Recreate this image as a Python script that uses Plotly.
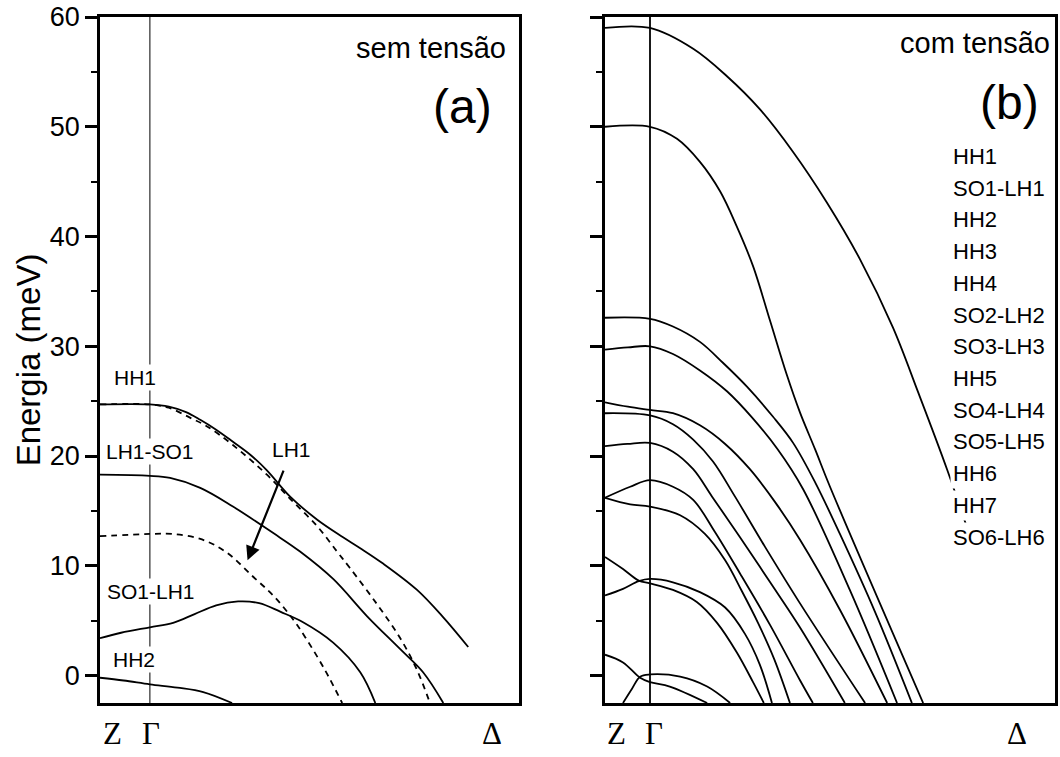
import plotly.graph_objects as go

# ---------------- panel (a): sem tensão ----------------
# k in arbitrary units along Z -> Gamma -> Delta ; energies in meV
K_GAMMA_A = 0.116
K_HH1_A = [0, 0.116, 0.16, 0.2, 0.233, 0.27, 0.309, 0.35, 0.388, 0.442, 0.505, 0.565, 0.605, 0.658, 0.737, 0.798, 0.856]
E_HH1_A = [24.7, 24.7, 24.5, 24.0, 23.3, 22.4, 21.3, 20.1, 18.7, 16.3, 14.2, 12.6, 11.6, 10.2, 7.8, 5.3, 2.6]

K_LH1_A = [0, 0.116, 0.16, 0.209, 0.249, 0.309, 0.388, 0.442, 0.505, 0.551, 0.581, 0.644, 0.698, 0.737, 0.767]
E_LH1_A = [24.7, 24.7, 24.4, 23.5, 22.7, 21.0, 18.3, 16.1, 13.6, 11.3, 9.8, 6.5, 3.4, 0.5, -2.5]

K_LHSO_A = [0, 0.116, 0.163, 0.233, 0.309, 0.402, 0.465, 0.542, 0.621, 0.698, 0.751, 0.798]
E_LHSO_A = [18.3, 18.2, 18.0, 17.1, 15.4, 13.0, 11.3, 8.8, 5.4, 2.4, 0.3, -2.5]

K_SO1_A = [0, 0.116, 0.17, 0.237, 0.295, 0.356, 0.405, 0.449, 0.477, 0.523, 0.563]
E_SO1_A = [12.7, 12.9, 12.9, 12.4, 11.2, 9.0, 7.2, 5.1, 3.5, 0.5, -2.5]

K_SOLH_A = [0, 0.049, 0.116, 0.17, 0.22, 0.27, 0.321, 0.37, 0.42, 0.47, 0.542, 0.605, 0.640]
E_SOLH_A = [3.4, 3.9, 4.4, 4.8, 5.6, 6.4, 6.75, 6.6, 5.8, 4.9, 3.0, 0.3, -2.5]

K_HH2_A = [0, 0.055, 0.116, 0.18, 0.24, 0.307]
E_HH2_A = [-0.2, -0.45, -0.8, -1.1, -1.5, -2.5]

SOLID_A = [(K_HH1_A, E_HH1_A), (K_LHSO_A, E_LHSO_A), (K_SOLH_A, E_SOLH_A), (K_HH2_A, E_HH2_A)]
DASHED_A = [(K_LH1_A, E_LH1_A), (K_SO1_A, E_SO1_A)]

LABELS_A = ["HH1", "LH1-SO1", "SO1-LH1", "HH2"]
LABEL_K_A = [0.082, 0.116, 0.119, 0.078]
LABEL_E_A = [27.2, 20.4, 7.7, 1.5]

# ---------------- panel (b): com tensão ----------------
K_GAMMA_B = 0.1
BANDS_B = [
    ([0, 0.1, 0.196, 0.271, 0.344, 0.418, 0.493, 0.567, 0.64, 0.696, 0.76, 0.81],
     [59.0, 59.0, 57.1, 54.6, 51.6, 47.7, 43.1, 37.9, 31.7, 25.8, 18.8, 12.8]),
    ([0, 0.1, 0.16, 0.211, 0.256, 0.293, 0.329, 0.367, 0.404, 0.433, 0.467, 0.5, 0.707],
     [50.0, 50.0, 48.9, 46.8, 44.1, 40.9, 37.3, 32.3, 27.4, 24.0, 20.6, 17.2, -2.5]),
    ([0, 0.1, 0.151, 0.211, 0.262, 0.316, 0.373, 0.418, 0.467, 0.522, 0.6, 0.682],
     [32.6, 32.5, 31.8, 30.4, 28.5, 26.3, 23.6, 21.2, 17.6, 12.9, 5.8, -2.5]),
    ([0, 0.051, 0.1, 0.151, 0.211, 0.271, 0.327, 0.384, 0.44, 0.544, 0.649],
     [29.7, 29.9, 30.0, 29.3, 27.8, 25.9, 23.5, 20.6, 17.0, 7.8, -2.5]),
    ([0, 0.051, 0.1, 0.151, 0.211, 0.267, 0.322, 0.378, 0.433, 0.522, 0.627],
     [24.9, 24.5, 24.2, 23.9, 22.8, 21.1, 18.8, 15.8, 12.4, 6.0, -2.5]),
    ([0, 0.1, 0.151, 0.196, 0.24, 0.289, 0.356, 0.433, 0.578],
     [23.9, 23.7, 22.9, 21.5, 19.5, 16.3, 11.7, 6.6, -2.5]),
    ([0, 0.05, 0.1, 0.151, 0.196, 0.238, 0.3, 0.367, 0.433, 0.533],
     [20.9, 21.1, 21.2, 20.4, 18.8, 16.3, 12.6, 8.5, 4.4, -2.5]),
    ([0, 0.056, 0.1, 0.151, 0.196, 0.244, 0.3, 0.367, 0.433, 0.462],
     [16.2, 17.2, 17.8, 17.2, 16.0, 13.1, 9.3, 4.6, -0.4, -2.5]),
    ([0, 0.056, 0.1, 0.167, 0.222, 0.267, 0.304, 0.34, 0.376, 0.411],
     [16.2, 15.6, 15.4, 14.6, 12.9, 10.5, 7.7, 4.8, 1.5, -2.5]),
    ([0, 0.04, 0.075, 0.1, 0.151, 0.211, 0.267, 0.311, 0.344, 0.371],
     [7.3, 7.9, 8.6, 8.8, 8.5, 7.6, 6.2, 3.8, 1.0, -2.5]),
    ([0, 0.04, 0.075, 0.1, 0.151, 0.204, 0.249, 0.293, 0.329, 0.353],
     [10.8, 9.7, 8.65, 8.4, 7.8, 6.7, 4.8, 2.1, -0.6, -2.5]),
    ([0.04, 0.06, 0.078, 0.1, 0.167, 0.227, 0.278],
     [-2.5, -1.2, -0.1, 0.1, -0.1, -1.0, -2.5]),
    ([0, 0.04, 0.078, 0.1, 0.144, 0.227],
     [1.9, 1.2, -0.2, -0.6, -1.0, -2.5]),
]

LABELS_B = ["HH1", "SO1-LH1", "HH2", "HH3", "HH4", "SO2-LH2", "SO3-LH3",
            "HH5", "SO4-LH4", "SO5-LH5", "HH6", "HH7", "SO6-LH6"]
LABEL_E_B = [47.3 - 2.89 * i for i in range(len(LABELS_B))]

E_MIN, E_MAX = -2.5, 60
K_MAX_A, K_MAX_B = 0.974, 1.0

# k-point names along the bottom (label centres, in k)
KPT_NAMES = ["Z", "Γ", "Δ"]
KPT_POS_A = [0.03, 0.118, 0.912]
KPT_POS_B = [0.026, 0.109, 0.916]

LW = 1.8
SANS = "Liberation Sans, Arial, sans-serif"
SERIF = "Liberation Serif, Times New Roman, serif"

fig = go.Figure()


def band(k, e, xa, ya, dash="solid"):
    fig.add_trace(go.Scatter(
        x=k, y=e, xaxis=xa, yaxis=ya, mode="lines",
        line=dict(color="black", width=LW, dash=dash, shape="spline", smoothing=1.0),
        hoverinfo="skip", showlegend=False))


# Gamma lines
fig.add_trace(go.Scatter(x=[K_GAMMA_A, K_GAMMA_A], y=[E_MIN, E_MAX], xaxis="x", yaxis="y",
                         mode="lines", line=dict(color="black", width=1),
                         hoverinfo="skip", showlegend=False))
fig.add_trace(go.Scatter(x=[K_GAMMA_B, K_GAMMA_B], y=[E_MIN, E_MAX], xaxis="x2", yaxis="y2",
                         mode="lines", line=dict(color="black", width=1.8),
                         hoverinfo="skip", showlegend=False))

for k, e in SOLID_A:
    band(k, e, "x", "y")
for k, e in DASHED_A:
    band(k, e, "x", "y", dash="6px,5px")
for k, e in BANDS_B:
    band(k, e, "x2", "y2")

axis_common = dict(showline=True, linewidth=2.5, linecolor="black", mirror=True,
                   showgrid=False, zeroline=False)

fig.update_layout(
    width=1060, height=757,
    margin=dict(l=0, r=0, t=0, b=0),
    paper_bgcolor="white", plot_bgcolor="white",
    xaxis=dict(domain=[100 / 1060, 519 / 1060], range=[0, K_MAX_A],
               showticklabels=False, ticks="", **axis_common),
    xaxis2=dict(domain=[605 / 1060, 1055 / 1060], range=[0, K_MAX_B],
                showticklabels=False, ticks="", **axis_common),
    yaxis=dict(domain=[1 - 703 / 757, 1 - 17 / 757], range=[E_MIN, E_MAX], anchor="x",
               tickmode="linear", tick0=0, dtick=10, ticks="outside", ticklen=12,
               tickwidth=2.5, tickcolor="black",
               tickfont=dict(family=SANS, size=27, color="black"),
               minor=dict(dtick=5, tick0=0, ticks="outside", ticklen=6, tickwidth=2,
                          tickcolor="black", showgrid=False),
               title=dict(text="Energia (meV)", font=dict(family=SANS, size=33, color="black"),
                          standoff=0),
               automargin=False, **axis_common),
    yaxis2=dict(domain=[1 - 703 / 757, 1 - 17 / 757], range=[E_MIN, E_MAX], anchor="x2",
                tickmode="linear", tick0=0, dtick=10, ticks="outside", ticklen=12,
                tickwidth=2.5, tickcolor="black", showticklabels=False,
                minor=dict(dtick=5, tick0=0, ticks="outside", ticklen=6, tickwidth=2,
                           tickcolor="black", showgrid=False),
                automargin=False, **axis_common),
)

ann = []
# band labels, panel (a)
for t, k, e in zip(LABELS_A, LABEL_K_A, LABEL_E_A):
    ann.append(dict(text=t, x=k, y=e, xref="x", yref="y", showarrow=False,
                    xanchor="center", yanchor="middle",
                    font=dict(family=SANS, size=21, color="black"),
                    bgcolor="white", borderpad=1))
# LH1 label and arrow
ann.append(dict(text="LH1", x=0.444, y=20.6, xref="x", yref="y", showarrow=False,
                xanchor="center", yanchor="middle",
                font=dict(family=SANS, size=21, color="black")))
ann.append(dict(text="", x=0.343, y=10.5, ax=0.428, ay=18.8, xref="x", yref="y",
                axref="x", ayref="y", showarrow=True, arrowhead=2, arrowsize=1.3,
                arrowwidth=2.2, arrowcolor="black"))
# band labels, panel (b)
for t, e in zip(LABELS_B, LABEL_E_B):
    ann.append(dict(text=t, x=0.767, y=e, xref="x2", yref="y2", xanchor="left",
                    yanchor="middle", showarrow=False,
                    font=dict(family=SANS, size=22, color="black"),
                    bgcolor="white", borderpad=2))
# panel titles
ann.append(dict(text="sem tensão", x=0.974, y=0.955, xref="x domain", yref="y domain",
                xanchor="right", yanchor="middle", showarrow=False,
                font=dict(family=SANS, size=29, color="black")))
ann.append(dict(text="(a)", x=0.865, y=0.869, xref="x domain", yref="y domain",
                xanchor="center", yanchor="middle", showarrow=False,
                font=dict(family=SANS, size=48, color="black")))
ann.append(dict(text="com tensão", x=0.993, y=0.962, xref="x2 domain", yref="y2 domain",
                xanchor="right", yanchor="middle", showarrow=False,
                font=dict(family=SANS, size=29, color="black")))
ann.append(dict(text="(b)", x=0.9, y=0.875, xref="x2 domain", yref="y2 domain",
                xanchor="center", yanchor="middle", showarrow=False,
                font=dict(family=SANS, size=48, color="black")))
# k-point names
for name, ka, kb in zip(KPT_NAMES, KPT_POS_A, KPT_POS_B):
    for k, xr in ((ka, "x"), (kb, "x2")):
        ann.append(dict(text=name, x=k, y=1 - 733 / 757, xref=xr, yref="paper",
                        xanchor="center", yanchor="middle", showarrow=False,
                        font=dict(family=SERIF, size=31, color="black")))

fig.update_layout(annotations=ann)
fig.write_html("out.html")
